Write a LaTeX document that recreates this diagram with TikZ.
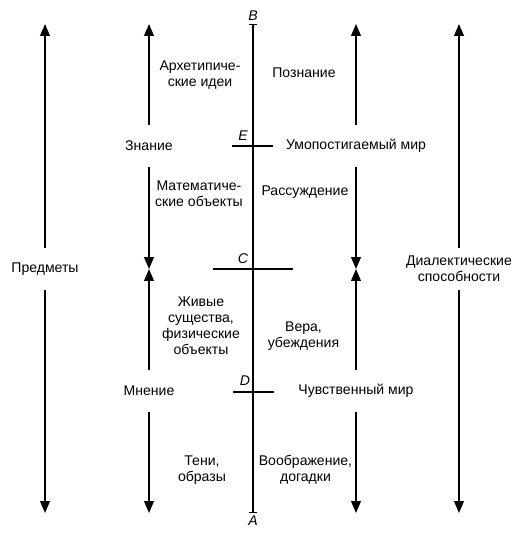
\documentclass[tikz,border=0pt]{standalone}
\usepackage{fontspec}
\setmainfont{Liberation Sans}
\usetikzlibrary{arrows.meta,positioning}

\begin{document}
\begin{tikzpicture}[
    arr/.style={-{Triangle[length=8.5pt,width=7pt]},line width=1pt},
    gap/.style={minimum height=1.05cm,inner sep=0pt},
    txt/.style={align=center,font=\fontsize{10}{11.5}\selectfont},
    pt/.style={font=\itshape,inner sep=1pt}]
    \useasboundingbox (0,0) rectangle (13.1,13.45);
    % ends of the arrows
    \coordinate (tOL) at (1.125,12.85);
    \coordinate (bOL) at (1.125,0.625);
    \coordinate (tIL) at (3.725,12.85);
    \coordinate (cIL) at (3.725,6.725);
    \coordinate (bIL) at (3.725,0.625);
    \coordinate (tIR) at (8.9,12.85);
    \coordinate (cIR) at (8.9,6.725);
    \coordinate (bIR) at (8.9,0.625);
    \coordinate (tOR) at (11.475,12.85);
    \coordinate (bOR) at (11.475,0.625);
    % the line AB
    \coordinate (ptB) at (6.325,12.85);
    \coordinate (ptA) at (6.325,0.625);
    \draw [{Bar[width=5pt]}-{Bar[width=5pt]},line width=0.8pt] (ptB) -- (ptA);
    \node (labB) [pt,above=1pt of ptB] {B};
    \node (labA) [pt,below=1pt of ptA] {A};
    \coordinate (eL) at (5.8,9.8);
    \coordinate (eR) at (6.825,9.8);
    \coordinate (cL) at (5.325,6.725);
    \coordinate (cR) at (7.325,6.725);
    \coordinate (dL) at (5.825,3.65);
    \coordinate (dR) at (6.85,3.65);
    \draw [line width=0.8pt] (eL) -- (eR);
    \draw [line width=0.8pt] (cL) -- (cR);
    \draw [line width=0.8pt] (dL) -- (dR);
    \node (labE) [pt] at (6.075,10.05) {E};
    \node (labC) [pt] at (6.075,6.975) {C};
    \node (labD) [pt] at (6.125,3.925) {D};
    % labels on the arrows
    \node (pr) [gap,txt] at (1.125,6.725) {Предметы};
    \node (zn) [gap,txt] at (3.725,9.8) {Знание};
    \node (mn) [gap,txt] at (3.725,3.68) {Мнение};
    \node (um) [gap,txt] at (8.9,9.8) {Умопостигаемый мир};
    \node (chm) [gap,txt] at (8.9,3.68) {Чувственный мир};
    \node (dia) [gap,txt] at (11.475,6.725) {Диалектические\\способности};
    \draw [arr] (pr) -- (tOL);
    \draw [arr] (pr) -- (bOL);
    \draw [arr] (zn) -- (tIL);
    \draw [arr] (zn) -- (cIL);
    \draw [arr] (mn) -- (cIL);
    \draw [arr] (mn) -- (bIL);
    \draw [arr] (um) -- (tIR);
    \draw [arr] (um) -- (cIR);
    \draw [arr] (chm) -- (cIR);
    \draw [arr] (chm) -- (bIR);
    \draw [arr] (dia) -- (tOR);
    \draw [arr] (dia) -- (bOR);
    % the sections
    \node (arch) [txt] at (5.0,11.575) {Архетипиче-\\ские идеи};
    \node (pozn) [txt] at (7.6,11.625) {Познание};
    \node (mat) [txt] at (4.975,8.6125) {Математиче-\\ские объекты};
    \node (rass) [txt] at (7.625,8.65) {Рассуждение};
    \node (zhiv) [txt] at (5.025,5.3125) {Живые\\существа,\\физические\\объекты};
    \node (vera) [txt] at (7.5875,5.0375) {Вера,\\убеждения};
    \node (teni) [txt] at (5.05,1.7) {Тени,\\образы};
    \node (voob) [txt] at (7.6375,1.7) {Воображение,\\догадки};
\end{tikzpicture}
\end{document}
